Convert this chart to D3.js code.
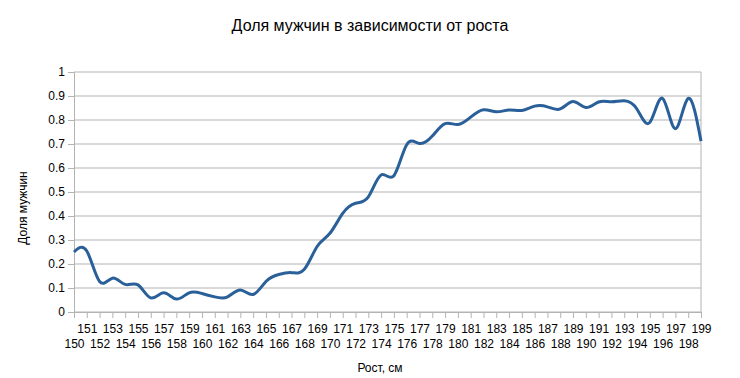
<!DOCTYPE html>
<html>
<head>
<meta charset="utf-8">
<script src="https://cdn.jsdelivr.net/npm/d3@7"></script>
<style>
  body { margin: 0; background: #fff; }
  text { font-family: "Liberation Sans", Arial, sans-serif; fill: #000; }
</style>
</head>
<body>
<div id="chart"></div>
<script>
// heights in cm
let heights = d3.range(150, 200);
// share of men for each height
let shareMen = [
  0.250, 0.254, 0.127, 0.141, 0.115, 0.113, 0.059, 0.080, 0.054, 0.080,
  0.077, 0.063, 0.063, 0.092, 0.073, 0.127, 0.156, 0.164, 0.178, 0.273,
  0.328, 0.411, 0.453, 0.480, 0.571, 0.568, 0.697, 0.702, 0.733, 0.785,
  0.781, 0.812, 0.843, 0.834, 0.842, 0.840, 0.858, 0.855, 0.846, 0.877,
  0.852, 0.875, 0.876, 0.880, 0.845, 0.790, 0.890, 0.764, 0.890, 0.712
];
let yTicks = [0, 0.1, 0.2, 0.3, 0.4, 0.5, 0.6, 0.7, 0.8, 0.9, 1];

let W = 740, H = 378;
let margin = {top: 72, right: 39, bottom: 66, left: 74};
let width = W - margin.left - margin.right,
    height = H - margin.top - margin.bottom;

let svg = d3.select("#chart").append("svg")
    .attr("width", W)
    .attr("height", H);

let x = d3.scalePoint()
    .domain(heights)
    .range([0, width]);

let y = d3.scaleLinear()
    .domain([0, 1])
    .range([height, 0]);

let g = svg.append("g")
    .attr("transform", "translate(" + margin.left + "," + margin.top + ")");

// grid
g.append("g")
    .selectAll("line")
    .data(yTicks)
    .enter().append("line")
    .attr("x1", 0).attr("x2", width)
    .attr("y1", d => y(d)).attr("y2", d => y(d))
    .attr("stroke", "#b3b3b3")
    .attr("stroke-width", 1);

// right border
g.append("line")
    .attr("x1", width).attr("x2", width)
    .attr("y1", 0).attr("y2", height)
    .attr("stroke", "#b3b3b3");

// y axis
let yAxis = g.append("g")
    .call(d3.axisLeft(y).tickValues(yTicks).tickFormat(d3.format("")).tickSize(6).tickPadding(3));
yAxis.select(".domain").attr("stroke", "#b3b3b3");
yAxis.selectAll(".tick line").attr("stroke", "#b3b3b3");
yAxis.selectAll("text").attr("font-size", 12).attr("font-family", "Liberation Sans, Arial, sans-serif");

// x axis
let xAxis = g.append("g")
    .attr("transform", "translate(0," + height + ")")
    .call(d3.axisBottom(x).tickSize(6).tickPadding(3));
xAxis.select(".domain").attr("stroke", "#b3b3b3");
xAxis.selectAll(".tick line").attr("stroke", "#b3b3b3");
xAxis.selectAll("text")
    .attr("font-size", 12)
    .attr("font-family", "Liberation Sans, Arial, sans-serif")
    .attr("y", (d, i) => i % 2 === 0 ? 27 : 12);

// line
let line = d3.line()
    .x((d, i) => x(heights[i]))
    .y(d => y(d))
    .curve(d3.curveNatural);

g.append("path")
    .datum(shareMen)
    .attr("fill", "none")
    .attr("stroke", "#2a6099")
    .attr("stroke-width", 3)
    .attr("stroke-linejoin", "round")
    .attr("d", line);

// titles
svg.append("text")
    .attr("x", 370).attr("y", 31)
    .attr("text-anchor", "middle")
    .attr("font-size", 16)
    .text("Доля мужчин в зависимости от роста");

svg.append("text")
    .attr("transform", "translate(27,208) rotate(-90)")
    .attr("text-anchor", "middle")
    .attr("font-size", 12)
    .text("Доля мужчин");

svg.append("text")
    .attr("x", 380).attr("y", 372)
    .attr("text-anchor", "middle")
    .attr("font-size", 12)
    .text("Рост, см");
</script>
</body>
</html>
